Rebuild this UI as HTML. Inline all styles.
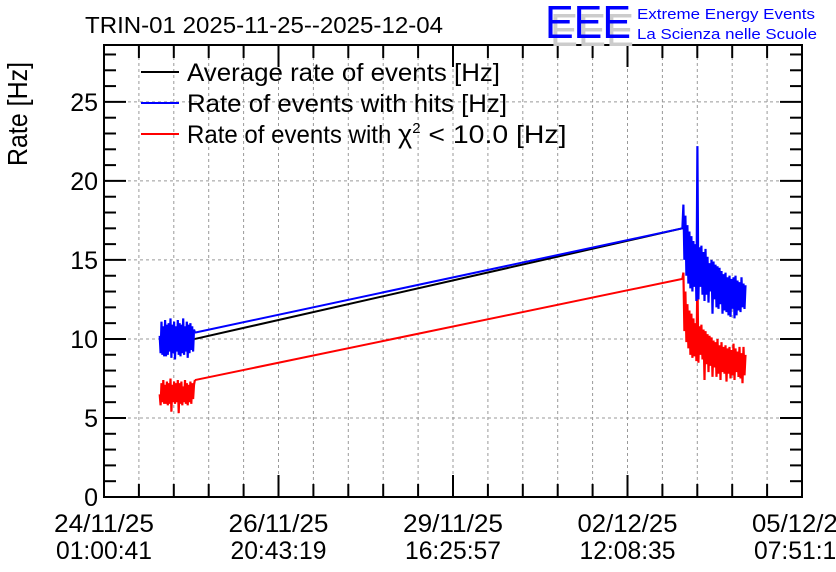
<!DOCTYPE html>
<html><head><meta charset="utf-8"><style>
body{margin:0;background:#fff}
svg{display:block;font-family:"Liberation Sans",sans-serif}
</style></head><body>
<svg id="c" width="836" height="572" viewBox="0 0 836 572">
<rect width="836" height="572" fill="#fff"/>
<g id="grid"></g>
<g id="series"></g>
<g id="axes"></g>
<text x="85" y="33" font-size="23" fill="#000" textLength="358" lengthAdjust="spacingAndGlyphs">TRIN-01 2025-11-25--2025-12-04</text>
<g>
<text x="548" y="42" font-size="46" fill="#ccc" transform="translate(2,4)" textLength="84" lengthAdjust="spacingAndGlyphs">EEE</text>
<text x="545" y="38" font-size="46" fill="#0000ff" textLength="86" lengthAdjust="spacingAndGlyphs">EEE</text>
<text x="637" y="19" font-size="15" fill="#0000ff" textLength="178" lengthAdjust="spacingAndGlyphs">Extreme Energy Events</text>
<text x="637" y="39" font-size="15" fill="#0000ff" textLength="180" lengthAdjust="spacingAndGlyphs">La Scienza nelle Scuole</text>
</g>
<text transform="translate(27,114) rotate(-90)" text-anchor="middle" font-size="28" textLength="104" lengthAdjust="spacingAndGlyphs">Rate [Hz]</text>
<g font-size="25">
<g><line x1="141" x2="179" y1="72" y2="72" stroke="#000" stroke-width="2"/><text x="187" y="81" textLength="313" lengthAdjust="spacingAndGlyphs">Average rate of events [Hz]</text></g>
<g><line x1="141" x2="179" y1="103" y2="103" stroke="#0000ff" stroke-width="2"/><text x="187" y="112" textLength="320" lengthAdjust="spacingAndGlyphs">Rate of events with hits [Hz]</text></g>
<g><line x1="141" x2="179" y1="134" y2="134" stroke="#ff0000" stroke-width="2"/><text x="187" y="143"><tspan textLength="211" lengthAdjust="spacingAndGlyphs">Rate of events with </tspan><tspan font-size="27">χ</tspan><tspan font-size="15" dy="-10">2</tspan><tspan dy="10" textLength="146" lengthAdjust="spacingAndGlyphs"> &lt; 10.0 [Hz]</tspan></text></g>
</g>
</svg>
<script>
// time in days since 24/11/25 01:00:41
const xTickLabels1 = ["24/11/25","26/11/25","29/11/25","02/12/25","05/12/25"];
const xTickLabels2 = ["01:00:41","20:43:19","16:25:57","12:08:35","07:51:13"];
const yTicks = [0,5,10,15,20,25];
const seg1Start = 0.9, seg1End = 1.47, seg2Start = 9.35, seg2End = 10.37;
const blue1 = [10.2,9.1,11.1,9.0,10.8,8.9,11.2,8.9,10.9,9.0,11.0,9.2,11.3,8.8,10.9,9.1,11.1,8.7,10.8,9.2,11.2,9.0,11.0,8.9,10.9,9.1,11.3,9.0,10.8,9.2,11.1,8.8,10.9,9.1,11.0,9.3,10.8,9.2,10.6,10.4];
const red1 = [6.5,5.8,7.2,6.0,7.4,5.9,7.1,5.9,7.3,5.8,7.2,5.9,7.5,5.4,7.1,6.0,7.3,5.9,7.2,6.0,7.4,5.3,7.2,5.9,7.3,5.8,7.0,6.0,7.4,5.9,7.2,5.8,7.1,6.0,7.3,5.9,7.2,6.2,7.1,7.4];
const black1 = [10.0,10.0];
const blue2 = [17.0,18.5,15.0,17.8,14.0,17.2,13.5,16.8,13.2,16.5,13.0,16.2,13.3,16.0,12.4,22.2,12.5,15.8,13.3,15.9,12.8,15.5,12.4,15.7,12.8,15.2,12.3,14.8,13.0,15.0,11.6,14.9,12.5,14.7,12.0,14.6,11.9,14.5,12.2,14.3,11.6,14.1,11.8,14.2,11.7,13.9,11.5,14.0,11.4,13.8,11.9,13.9,11.3,14.0,11.5,13.7,11.8,13.6,11.7,13.9,12.0,13.5,11.9,13.4];
const red2 = [13.8,14.2,10.5,13.0,9.8,12.2,9.4,11.8,9.0,11.6,8.8,11.3,8.9,11.0,8.6,14.0,8.5,10.8,9.0,10.9,8.7,10.6,7.4,10.5,8.4,10.3,7.9,10.2,8.3,10.1,7.6,9.9,8.2,9.8,7.6,10.0,7.8,9.6,7.4,9.8,7.9,9.5,7.8,9.6,7.3,9.4,7.8,9.5,7.5,9.3,7.7,9.7,7.4,9.4,7.9,9.2,7.6,9.5,7.5,9.1,7.2,9.5,7.7,9.0];
const black2 = [17.0,17.0];

const X0=104,X1=802,Y0=497,Y1=45,tMax=11.283,vMax=28.6;
const xs=t=>X0+(t/tMax)*(X1-X0);
const ys=v=>Y0-(v/vMax)*(Y0-Y1);
const NS="http://www.w3.org/2000/svg";
function mk(tag,attrs,parent){const e=document.createElementNS(NS,tag);for(const k in attrs)e.setAttribute(k,attrs[k]);parent.appendChild(e);return e;}
const grid=document.getElementById('grid'),axes=document.getElementById('axes'),ser=document.getElementById('series');
for(let i=1;i<20;i++){const x=X0+i*(X1-X0)/20;const l=mk('line',{x1:x,x2:x,y1:Y1,y2:Y0,stroke:'#999','stroke-dasharray':'3,3','stroke-width':1},grid);

}
yTicks.forEach(v=>{if(v===0)return;const l=mk('line',{x1:X0,x2:X1,y1:ys(v),y2:ys(v),stroke:'#999','stroke-dasharray':'3,3','stroke-width':1},grid);

});
function seg(arr,t0,t1,color,name){const n=arr.length;let pts=arr.map((v,i)=>xs(t0+(t1-t0)*i/(n-1)).toFixed(1)+','+ys(v).toFixed(1)).join(' ');
const p=mk('polyline',{points:pts,fill:'none',stroke:color,'stroke-width':2.2,'stroke-linejoin':'miter'},ser);

}
function link(a,b,color,name){const p=mk('line',{x1:xs(seg1End),y1:ys(a[a.length-1]),x2:xs(seg2Start),y2:ys(b[0]),stroke:color,'stroke-width':2},ser);

}
seg(black1,seg1Start,seg1End,'#000','average-rate-seg1');link(black1,black2,'#000','average-rate-gap');seg(black2,seg2Start,seg2Start+0.01,'#000','average-rate-seg2');
seg(red1,seg1Start,seg1End,'#f00','chi2-rate-seg1');link(red1,red2,'#f00','chi2-rate-gap');seg(red2,seg2Start,seg2End,'#f00','chi2-rate-seg2');
seg(blue1,seg1Start,seg1End,'#00f','hits-rate-seg1');link(blue1,blue2,'#00f','hits-rate-gap');seg(blue2,seg2Start,seg2End,'#00f','hits-rate-seg2');
const fr=mk('rect',{x:X0,y:Y1,width:X1-X0,height:Y0-Y1,fill:'none',stroke:'#000','stroke-width':2},axes);


for(let i=0;i<=20;i++){const x=X0+i*(X1-X0)/20;const L=i%5===0?22:13;
mk('line',{x1:x,x2:x,y1:Y0,y2:Y0-L,stroke:'#000','stroke-width':2},axes);
mk('line',{x1:x,x2:x,y1:Y1,y2:Y1+L,stroke:'#000','stroke-width':2},axes);}
xTickLabels1.forEach((s,i)=>{const x=X0+i*(X1-X0)/4;
const t=mk('text',{x:x,y:532,'text-anchor':'middle','font-size':25,textLength:100,lengthAdjust:'spacingAndGlyphs'},axes);t.textContent=s;


const t2=mk('text',{x:x,y:559,'text-anchor':'middle','font-size':25,textLength:96,lengthAdjust:'spacingAndGlyphs'},axes);t2.textContent=xTickLabels2[i];

});
for(let v=0;v<=28;v++){const y=ys(v);const L=v%5===0?22:12;
mk('line',{x1:X0,x2:X0+L,y1:y,y2:y,stroke:'#000','stroke-width':2},axes);
mk('line',{x1:X1,x2:X1-L,y1:y,y2:y,stroke:'#000','stroke-width':2},axes);}
yTicks.forEach(v=>{const t=mk('text',{x:98,y:ys(v)+9,'text-anchor':'end','font-size':25},axes);t.textContent=v;

});
</script>
</body></html>
